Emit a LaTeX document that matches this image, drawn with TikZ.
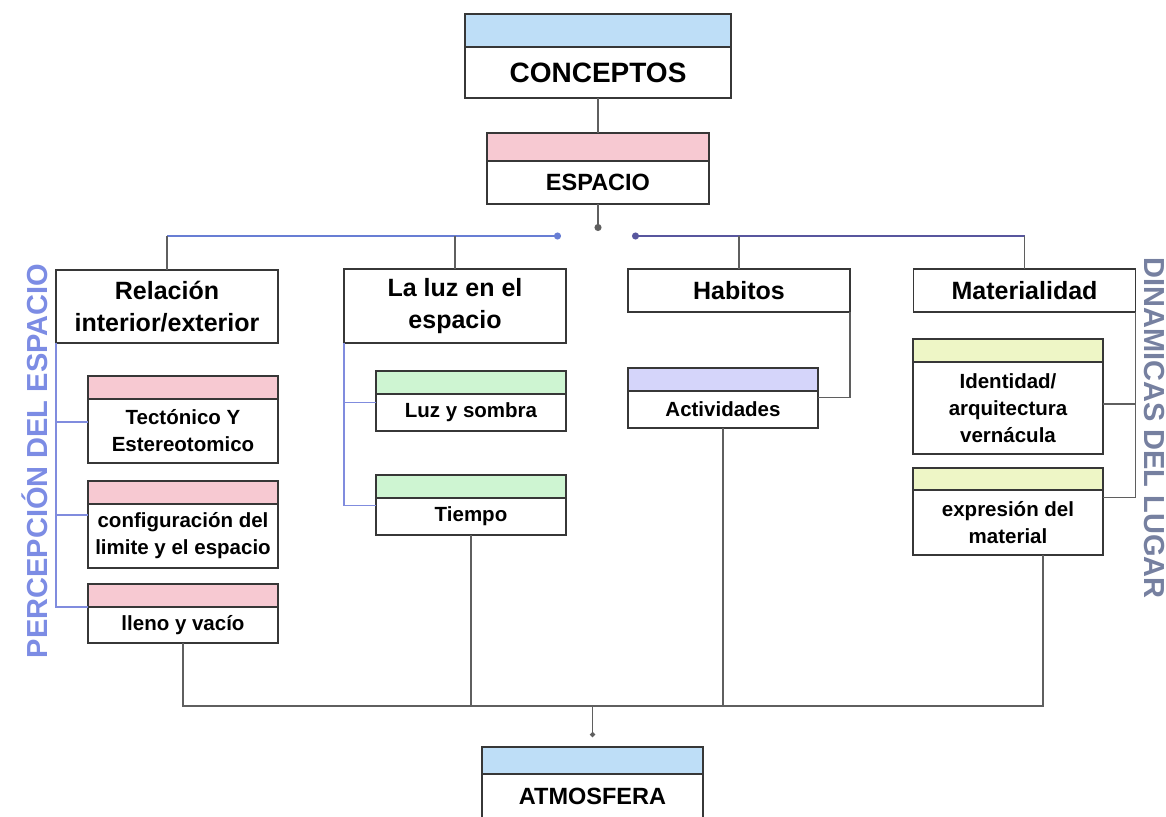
\documentclass[tikz,border=0pt]{standalone}
\usepackage{fontspec}
\setmainfont{Liberation Sans}
\usepackage{tikz}
\usetikzlibrary{arrows.meta, positioning, calc}
\definecolor{boxLine}{RGB}{55, 55, 55}
\definecolor{lineGray}{RGB}{95, 95, 95}
\definecolor{lineBlue}{RGB}{104, 126, 212}
\definecolor{bracketBlue}{RGB}{128, 140, 222}
\definecolor{linePurple}{RGB}{88, 86, 158}
\definecolor{skyBar}{RGB}{190, 222, 247}
\definecolor{pinkBar}{RGB}{247, 201, 210}
\definecolor{greenBar}{RGB}{206, 245, 210}
\definecolor{lilacBar}{RGB}{213, 213, 250}
\definecolor{limeBar}{RGB}{238, 246, 198}
\definecolor{percepBlue}{RGB}{124, 140, 228}
\definecolor{lugarGray}{RGB}{118, 128, 160}

\begin{document}
\begin{tikzpicture}[
  x=1pt, y=-1pt,
  topbox/.style={rectangle, draw=boxLine, fill=white, line width=1.3pt, inner sep=0pt, outer sep=0pt, align=center, minimum width=222pt, font=\fontsize{25}{32}\selectfont\bfseries},
  titlebox/.style={topbox, font=\fontsize{23.5}{28}\selectfont\bfseries},
  subbox/.style={topbox, minimum width=190pt, font=\fontsize{20.5}{27}\selectfont\bfseries},
  colorbar/.style={rectangle, draw=boxLine, fill=#1, line width=1.3pt, inner sep=0pt, outer sep=0pt, minimum height=23pt},
  grayline/.style={draw=lineGray, line width=1.3pt},
  blueline/.style={draw=lineBlue, line width=1.5pt},
  purpleline/.style={draw=linePurple, line width=1.5pt},
  bluebracket/.style={draw=bracketBlue, line width=1.3pt},
  sidetext/.style={font=\fontsize{29}{29}\selectfont\bfseries, inner sep=0pt}
]
  \useasboundingbox (0,0) rectangle (1166,816);

  % Title blocks
  \node[titlebox, minimum width=266pt, minimum height=51pt, font=\fontsize{28}{32}\selectfont\bfseries] (conceptos) at (598,72.5) {CONCEPTOS};
  \node[colorbar=skyBar, minimum width=266pt, minimum height=33pt, above=0pt of conceptos] (conceptosBar) {};
  \node[titlebox, minimum height=43pt] (espacio) at (598,182.5) {ESPACIO};
  \node[colorbar=pinkBar, minimum width=222pt, minimum height=28pt, above=0pt of espacio] (espacioBar) {};

  % Hub points
  \coordinate (hub) at (598,231);
  \coordinate (hubL) at (561,236);
  \coordinate (hubR) at (632,236);
  \coordinate (join) at (592.5,706);

  % Main branches
  \node[topbox, minimum height=73pt] (relacion) at (167,306.5) {Relación\\interior/exterior};
  \node[topbox, minimum height=74pt] (luz) at (455,306) {La luz en el\\espacio};
  \node[topbox, minimum height=43pt] (habitos) at (739,290.5) {Habitos};
  \node[topbox, minimum height=43pt] (materialidad) at (1024.5,290.5) {Materialidad};

  % Percepcion items
  \node[subbox, minimum height=64pt] (tect) at (183,431) {Tectónico Y\\Estereotomico};
  \node[colorbar=pinkBar, minimum width=190pt, above=0pt of tect] (tectBar) {};
  \node[subbox, minimum height=64pt] (config) at (183,536) {configuración del\\limite y el espacio};
  \node[colorbar=pinkBar, minimum width=190pt, above=0pt of config] (configBar) {};
  \node[subbox, minimum height=36pt] (lleno) at (183,625) {lleno y vacío};
  \node[colorbar=pinkBar, minimum width=190pt, above=0pt of lleno] (llenoBar) {};

  % Luz items
  \node[subbox, minimum height=37pt] (sombra) at (471,412.5) {Luz y sombra};
  \node[colorbar=greenBar, minimum width=190pt, above=0pt of sombra] (sombraBar) {};
  \node[subbox, minimum height=37pt] (tiempo) at (471,516.5) {Tiempo};
  \node[colorbar=greenBar, minimum width=190pt, above=0pt of tiempo] (tiempoBar) {};

  % Habitos items
  \node[subbox, minimum height=37pt] (activ) at (723,409.5) {Actividades};
  \node[colorbar=lilacBar, minimum width=190pt, above=0pt of activ] (activBar) {};

  % Materialidad items
  \node[subbox, minimum height=92pt] (identidad) at (1008,408) {Identidad/\\arquitectura\\vernácula};
  \node[colorbar=limeBar, minimum width=190pt, above=0pt of identidad] (identidadBar) {};
  \node[subbox, minimum height=65pt] (expresion) at (1008,522.5) {expresión del\\material};
  \node[colorbar=limeBar, minimum width=190pt, minimum height=22pt, above=0pt of expresion] (expresionBar) {};

  % Result
  \node[titlebox, minimum width=221pt, minimum height=44pt] (atmosfera) at (592.5,796) {ATMOSFERA};
  \node[colorbar=skyBar, minimum width=221pt, minimum height=27pt, above=0pt of atmosfera] (atmosferaBar) {};

  % Side labels
  \node[sidetext, rotate=90, text=percepBlue] (percep) at (35,461) {PERCEPCIÓN DEL ESPACIO};
  \node[sidetext, rotate=-90, text=lugarGray] (lugar) at (1154,428) {DINAMICAS DEL LUGAR};

  % Connections
  \draw[grayline] (conceptos.south) -- (espacioBar.north);
  \draw[grayline, -{Circle[length=7pt]}] (espacio.south) -- (hub);
  \draw[blueline, {Circle[length=7pt]}-] (hubL) -- (hubL -| relacion.north);
  \draw[purpleline, {Circle[length=7pt]}-] (hubR) -- (hubR -| materialidad.north);
  \draw[grayline] (hubL -| relacion.north) -- (relacion.north);
  \draw[grayline] (hubL -| luz.north) -- (luz.north);
  \draw[grayline] (hubR -| habitos.north) -- (habitos.north);
  \draw[grayline] (hubR -| materialidad.north) -- (materialidad.north);

  \draw[bluebracket] ([yshift=9pt]tect.west) -| (relacion.south west);
  \draw[bluebracket] ([yshift=21pt]config.west) -| (relacion.south west);
  \draw[bluebracket] (lleno.north west) -| (relacion.south west);
  \draw[bluebracket] ([yshift=10pt]sombra.west) -| (luz.south west);
  \draw[bluebracket] ([yshift=11pt]tiempo.west) -| (luz.south west);
  \draw[grayline] ([yshift=12pt]activ.east) -| (habitos.south east);
  \draw[grayline] ([yshift=4pt]identidad.east) -| (materialidad.south east);
  \draw[grayline] ([yshift=25pt]expresion.east) -| (materialidad.south east);

  \draw[grayline] (lleno.south) |- (join);
  \draw[grayline] ([xshift=35pt]expresion.south) |- (join);
  \draw[grayline] (tiempo.south) -- (tiempo.south |- join);
  \draw[grayline] (activ.south) -- (activ.south |- join);
  \draw[grayline, -{Circle[length=5pt]}] (join) -- ([yshift=10pt]atmosferaBar.north);

\end{tikzpicture}
\end{document}
